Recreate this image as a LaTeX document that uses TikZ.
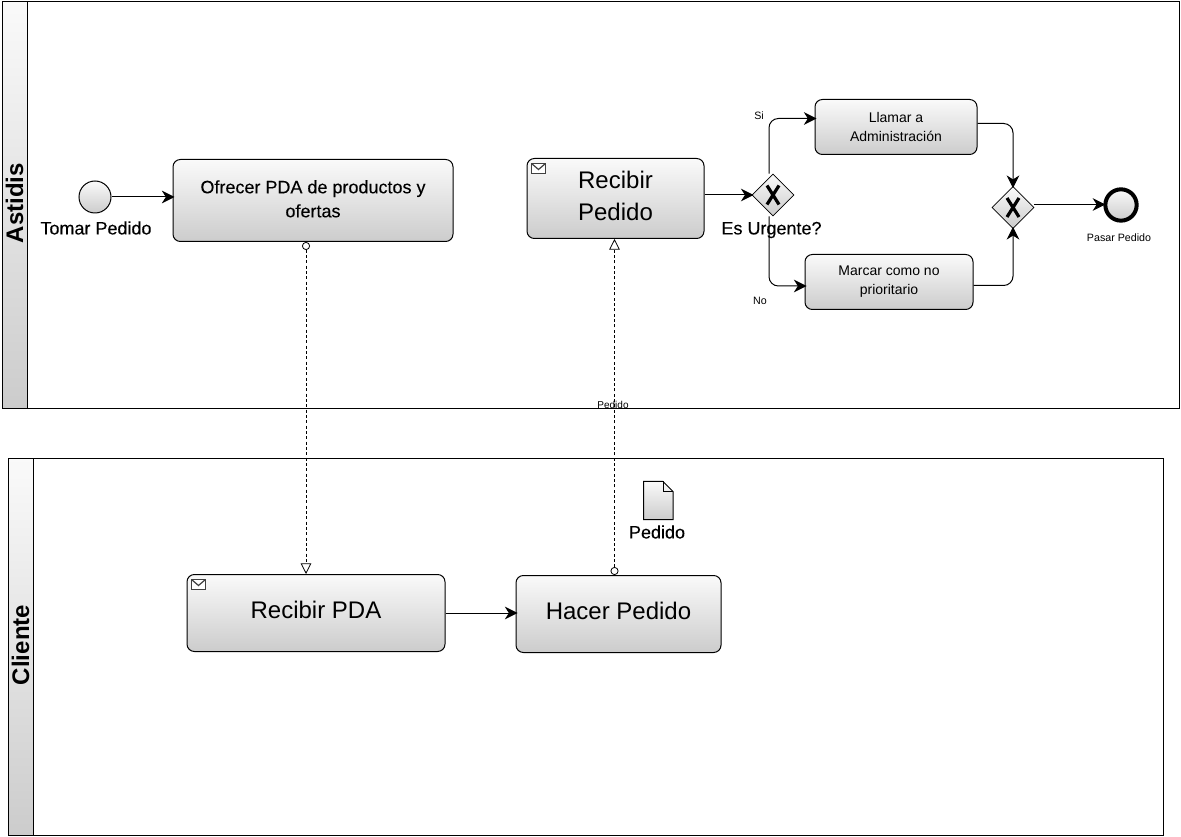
\documentclass[tikz,border=0pt]{standalone}
\usepackage{fontspec}
\setmainfont{Liberation Sans}
\usetikzlibrary{arrows.meta,shapes.geometric,calc}
\newcommand{\fpx}[2]{\fontsize{#1}{#2}\selectfont}
\newcommand{\semi}{\addfontfeature{FakeBold=0.12}}
\definecolor{gtop}{gray}{0.98}
\definecolor{gbot}{gray}{0.80}
\tikzset{
  lane/.style={draw=black,line width=0.75pt,fill=white},
  head/.style={draw=black,line width=0.75pt,top color=gtop,bottom color=gbot},
  task/.style={draw=black,line width=0.75pt,rounded corners=5.5pt,top color=gtop,bottom color=gbot,inner sep=0pt,align=center,text=black},
  gw/.style={diamond,draw=black,line width=0.6pt,top color=gtop,bottom color=gbot,minimum width=31.5pt,minimum height=31.5pt,inner sep=0pt,aspect=1},
  ev/.style={circle,draw=black,top color=gtop,bottom color=gbot,inner sep=0pt},
  seq/.style={draw=black,line width=0.75pt,rounded corners=7pt,shorten >=-1.5pt,-{Stealth[length=9.5pt,width=9.5pt,inset=3pt]}},
  msgflow/.style={draw=black,line width=0.6pt,dash pattern=on 2.4pt off 1.6pt,{Circle[open,length=6pt,width=6pt,fill=white,sep=0pt]}-{Triangle[open,length=8pt,width=8pt,fill=white]}},
  lbl/.style={inner sep=0pt,text=black,align=center},
  xmark/.style={draw=black,line width=2.4pt},
  env/.style={draw=black!75,line width=0.9pt,fill=white}
}
\begin{document}
\begin{tikzpicture}[x=0.75pt,y=-0.75pt]
\useasboundingbox (0,0) rectangle (1181,837);
\fill[white] (0,0) rectangle (1181,837);
% lanes
\draw[lane] (2.5,1.5) rectangle (1179.5,408.5);
\draw[head] (2.5,1.5) rectangle (27.5,408.5);
\node[lbl,rotate=90,font=\fpx{18}{20}\bfseries] (astidis) at (14.5,203) {Astidis};
\draw[lane] (8.5,458.5) rectangle (1163.5,835.5);
\draw[head] (8.5,458.5) rectangle (33.5,835.5);
\node[lbl,rotate=90,font=\fpx{18}{20}\bfseries] (cliente) at (20.5,645) {Cliente};
% events
\node[ev,line width=0.75pt,minimum size=24pt] (start) at (95,197) {};
\node[ev,line width=3pt,minimum size=23.5pt] (endev) at (1121,205) {};
\node[lbl,font=\fpx{13.5}{15}\semi] (startl) at (96,228) {Tomar Pedido};
\node[lbl,font=\fpx{8}{9}] (endl) at (1119,237.5) {Pasar Pedido};
% tasks
\node[task,minimum width=210pt,minimum height=61.5pt,font=\fpx{13.5}{18}\semi] (ofrecer) at (313,200.5) {\raisebox{1.5pt}{\begin{tabular}{@{}c@{}}Ofrecer PDA de productos y\\[0pt]ofertas\end{tabular}}};
\node[task,minimum width=132.75pt,minimum height=60pt,font=\fpx{18}{24}] (recibir) at (615.5,198.5) {\raisebox{3.4pt}{\begin{tabular}{@{}c@{}}Recibir\\Pedido\end{tabular}}};
\node[task,minimum width=121.5pt,minimum height=41.25pt,font=\fpx{10.5}{14.4}] (llamar) at (896,127) {Llamar a\\Administración};
\node[task,minimum width=126pt,minimum height=41.25pt,font=\fpx{10.5}{14.4}] (marcar) at (889,282) {Marcar como no\\prioritario};
\node[task,minimum width=193.5pt,minimum height=57.75pt,font=\fpx{18}{24}] (pda) at (316,613) {\raisebox{4.6pt}{Recibir PDA}};
\node[task,minimum width=153.75pt,minimum height=57.75pt,font=\fpx{18}{24}] (hacer) at (618.5,614) {\raisebox{4.6pt}{Hacer Pedido}};
% gateways
\node[gw] (g1) at (773,195) {};
\node[gw] (g2) at (1013,207.5) {};
\draw[xmark] ($(g1)+(-6,-9.5)$) -- ($(g1)+(6,9.5)$) ($(g1)+(6,-9.5)$) -- ($(g1)+(-6,9.5)$);
\draw[xmark] ($(g2)+(-6,-9.5)$) -- ($(g2)+(6,9.5)$) ($(g2)+(6,-9.5)$) -- ($(g2)+(-6,9.5)$);
\node[lbl,font=\fpx{13.5}{15}\semi] (gl) at (771.5,230) {Es Urgente?};
\node[lbl,font=\fpx{8}{9}] (si) at (759,115.5) {Si};
\node[lbl,font=\fpx{8}{9}] (no) at (760,300.5) {No};
% envelopes
\foreach \n/\ex/\ey in {recibir/531.5/163.5, pda/191.5/579.5}{
  \draw[env] (\ex,\ey) rectangle (\ex+14,\ey+10);
  \draw[env,fill=none] (\ex,\ey) -- (\ex+7,\ey+6) -- (\ex+14,\ey);
}
% sequence flows
\draw[seq] (start.east) -- (ofrecer.west |- start.east);
\draw[seq] (recibir.east |- g1.west) -- (g1.west);
\draw[seq] ([xshift=-3pt]g1.north) |- (llamar.west |- 0,118.5);
\draw[seq] ([xshift=-3pt]g1.south) |- (marcar.west |- 0,286);
\draw[seq] (llamar.east |- 0,123.5) -| (g2.north);
\draw[seq] (marcar.east |- 0,285.5) -| (g2.south);
\draw[seq] (g2.east |- 0,204.5) -- (endev.west |- 0,204.5);
\draw[seq] (pda.east) -- (hacer.west |- pda.east);
% document
\draw[line width=0.75pt,draw=black,top color=gtop,bottom color=gbot] (643.5,481.5) -- (663,481.5) -- (673,491.5) -- (673,519.5) -- (643.5,519.5) -- cycle;
\draw[line width=0.75pt] (663,481.5) -- (663,491.5) -- (673,491.5);
\node[lbl,font=\fpx{13.5}{15}\semi] (docl) at (657,532) {Pedido};
% message flows
\draw[msgflow] ([xshift=-5.25pt]ofrecer.south) -- ([xshift=-7.5pt]pda.north);
\draw[msgflow] ([xshift=-3pt]hacer.north) -- ([xshift=-0.75pt]recibir.south);
\node[lbl,font=\fpx{7.5}{9}] (msgl) at (613,404.5) {Pedido};
\end{tikzpicture}
\end{document}
